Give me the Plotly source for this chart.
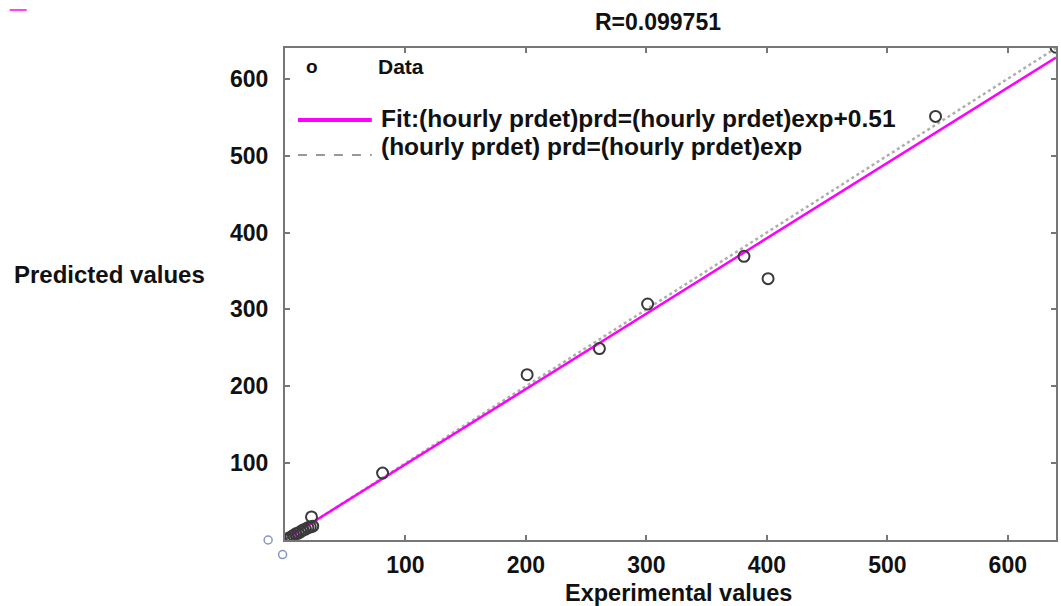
import plotly.graph_objects as go

# Data points (experimental, predicted)
exp_vals = [1, 3, 5, 7, 9, 11, 13, 15, 17, 19, 21, 23, 22, 81, 201, 261, 301, 381, 401, 540, 640]
prd_vals = [1, 2, 4, 6, 8, 9, 11, 13, 14, 16, 17, 18, 30, 87, 215, 249, 307, 369, 340, 551, 641]

# stray points drawn just outside the axes in the original
stray_x = [-14, -2]
stray_y = [0, -19]

X_RANGE = [0, 640]
Y_RANGE = [0, 640]

fit_x = [0, 640]
fit_slope = 0.98
fit_icpt = 0.51
fit_y = [fit_slope * v + fit_icpt for v in fit_x]
ref_x = [0, 640]
ref_y = [0, 640]

x_ticks = [100, 200, 300, 400, 500, 600]
y_ticks = [100, 200, 300, 400, 500, 600]

FONT = "Liberation Sans, Arial, sans-serif"
FS = 23

fig = go.Figure()
fig.add_trace(go.Scatter(x=ref_x, y=ref_y, mode="lines",
                         line=dict(color="rgba(165,165,165,0.9)", width=2.5, dash="dot"),
                         showlegend=False))
fig.add_trace(go.Scatter(x=fit_x, y=fit_y, mode="lines",
                         line=dict(color="#ff00ff", width=2.5), showlegend=False))
fig.add_trace(go.Scatter(x=exp_vals, y=prd_vals, mode="markers",
                         marker=dict(symbol="circle-open", size=11, color="#3a3a3a",
                                     line=dict(width=2)),
                         showlegend=False))

# plot area in pixels
L, R, T, B = 285, 1058, 48, 540
W, H = R - L, B - T


def px(xp):
    return (xp - L) / W


def py(yp):
    return (B - yp) / H


annotations = [
    dict(text="<b>R=0.099751</b>", x=px(659), y=py(22), xanchor="center", yanchor="middle"),
    dict(text="<b>Predicted values</b>", x=px(109), y=py(274), xanchor="center", yanchor="middle"),
    dict(text="<b>Experimental values</b>", x=px(680), y=py(608), xanchor="center", yanchor="bottom"),
    dict(text="<b>o</b>", x=px(312), y=py(67), xanchor="center", yanchor="middle"),
    dict(text="<b>Data</b>", x=px(376), y=py(66), xanchor="left", yanchor="middle"),
    dict(text="<b>Fit:(hourly prdet)prd=(hourly prdet)exp+0.51</b>", x=px(379), y=py(118),
         xanchor="left", yanchor="middle"),
    dict(text="<b>(hourly prdet) prd=(hourly prdet)exp</b>", x=px(379), y=py(147),
         xanchor="left", yanchor="middle"),
]
for a in annotations:
    a.update(xref="paper", yref="paper", showarrow=False,
             font=dict(size=FS, family=FONT, color="#111"))
annotations[1]["font"] = dict(size=24, family=FONT, color="#111")
annotations[2]["font"] = dict(size=23.5, family=FONT, color="#111")
annotations[3]["font"] = dict(size=19, family=FONT, color="#111")
annotations[4]["font"] = dict(size=21, family=FONT, color="#111")
annotations[5]["font"] = dict(size=24.5, family=FONT, color="#111")
annotations[6]["font"] = dict(size=24.5, family=FONT, color="#111")

shapes = [
    dict(type="line", xref="paper", yref="paper", x0=px(298), x1=px(372), y0=py(120), y1=py(120),
         line=dict(color="#ff00ff", width=4)),
    dict(type="line", xref="paper", yref="paper", x0=px(298), x1=px(372), y0=py(155), y1=py(155),
         line=dict(color="#333", width=1, dash="dash")),
    dict(type="line", xref="paper", yref="paper", x0=px(9), x1=px(26), y0=py(10), y1=py(10),
         line=dict(color="#ff00ff", width=1.5)),
]
# stray markers outside the axes, positioned through the axis ranges
for sx, sy in zip(stray_x, stray_y):
    fx = (sx - X_RANGE[0]) / (X_RANGE[1] - X_RANGE[0])
    fy = (sy - Y_RANGE[0]) / (Y_RANGE[1] - Y_RANGE[0])
    shapes.append(dict(type="circle", xref="paper", yref="paper",
                       xsizemode="pixel", ysizemode="pixel", xanchor=fx, yanchor=fy,
                       x0=-4, x1=4, y0=-4, y1=4,
                       line=dict(color="#8a94c0", width=1.5)))

axis_common = dict(showgrid=False, zeroline=False, showline=True,
                   linecolor="#777", linewidth=2, mirror="ticks", ticks="inside",
                   ticklen=5, tickcolor="#777", tickwidth=2,
                   tickfont=dict(size=FS, family=FONT, color="#111"))

fig.update_xaxes(**axis_common, range=X_RANGE, tickvals=x_ticks,
                 ticktext=[f"<b>{v}</b>" for v in x_ticks], ticklabelstandoff=3)
fig.update_yaxes(**axis_common, range=Y_RANGE, tickvals=y_ticks,
                 ticktext=[f"<b>{v}</b>" for v in y_ticks], ticklabelstandoff=10)

fig.update_layout(width=1061, height=606, margin=dict(l=L, r=1061 - R, t=T, b=606 - B),
                  paper_bgcolor="white", plot_bgcolor="white",
                  annotations=annotations, shapes=shapes, showlegend=False)

fig.write_html("out.html")
